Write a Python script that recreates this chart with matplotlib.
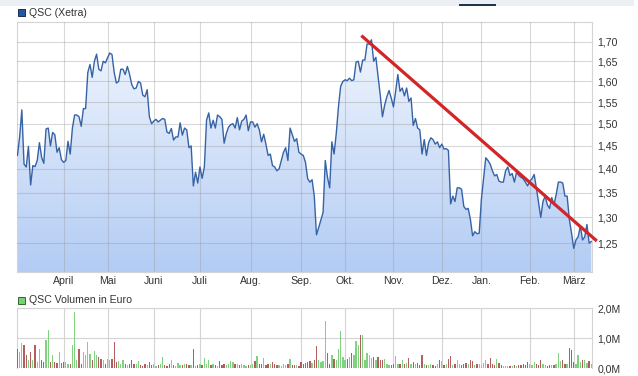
import matplotlib.pyplot as plt
import numpy as np
from matplotlib.patches import Rectangle
from matplotlib.colors import LinearSegmentedColormap
from matplotlib.ticker import NullLocator, NullFormatter

plt.rcParams['font.family'] = ['Liberation Sans', 'DejaVu Sans']

# month labels on the x axis and trading days in each segment
# (first segment = end of March before the April gridline)
months = ['April', 'Mai', 'Juni', 'Juli', 'Aug.', 'Sep.', 'Okt.', 'Nov.',
          'Dez.', 'Jan.', 'Feb.', 'März']
days_per_month = [21, 20, 21, 21, 23, 23, 20, 22, 22, 18, 22, 20, 9]

# daily closing prices (EUR), Xetra
price = [
    1.429, 1.47, 1.532, 1.41, 1.404, 1.449, 1.366, 1.407, 1.405, 1.418,
    1.457, 1.425, 1.412, 1.488, 1.49, 1.45, 1.48, 1.475, 1.436, 1.446,
    1.42, 1.414, 1.418, 1.46, 1.432, 1.49, 1.52, 1.52, 1.516, 1.494,
    1.535, 1.535, 1.622, 1.642, 1.61, 1.65, 1.668, 1.63, 1.626, 1.65,
    1.646, 1.659, 1.671, 1.667, 1.622, 1.596, 1.60, 1.63, 1.63, 1.617,
    1.637, 1.617, 1.592, 1.582, 1.584, 1.60, 1.596, 1.567, 1.563, 1.58,
    1.516, 1.50, 1.506, 1.51, 1.504, 1.508, 1.512, 1.51, 1.481, 1.478,
    1.489, 1.463, 1.47, 1.47, 1.502, 1.474, 1.49, 1.486, 1.446, 1.45,
    1.364, 1.393, 1.37, 1.404, 1.38, 1.404, 1.508, 1.525, 1.49, 1.508,
    1.49, 1.52, 1.516, 1.51, 1.456, 1.478, 1.492, 1.498, 1.50, 1.49,
    1.514, 1.486, 1.506, 1.51, 1.52, 1.484, 1.504, 1.504, 1.492, 1.50,
    1.486, 1.459, 1.476, 1.454, 1.429, 1.432, 1.407, 1.404, 1.396, 1.40,
    1.418, 1.436, 1.446, 1.418, 1.49, 1.475, 1.46, 1.466, 1.436, 1.432,
    1.429, 1.414, 1.379, 1.372, 1.377, 1.343, 1.266, 1.28, 1.295, 1.31,
    1.418, 1.382, 1.36, 1.459, 1.432, 1.478, 1.54, 1.588, 1.60, 1.604,
    1.602, 1.608, 1.602, 1.604, 1.648, 1.65, 1.623, 1.653, 1.653, 1.694,
    1.694, 1.705, 1.65, 1.66, 1.613, 1.567, 1.516, 1.543, 1.563, 1.578,
    1.56, 1.539, 1.576, 1.617, 1.576, 1.584, 1.565, 1.584, 1.552, 1.56,
    1.496, 1.512, 1.49, 1.486, 1.432, 1.464, 1.429, 1.457, 1.468, 1.464,
    1.454, 1.459, 1.446, 1.454, 1.443, 1.444, 1.44, 1.327, 1.343, 1.332,
    1.36, 1.36, 1.357, 1.322, 1.316, 1.318, 1.296, 1.264, 1.272, 1.268,
    1.269, 1.337, 1.379, 1.424, 1.418, 1.41, 1.396, 1.385, 1.388, 1.374,
    1.372, 1.372, 1.396, 1.404, 1.386, 1.39, 1.372, 1.393, 1.386, 1.382,
    1.379, 1.372, 1.364, 1.374, 1.379, 1.388, 1.36, 1.33, 1.30, 1.332,
    1.343, 1.325, 1.318, 1.34, 1.325, 1.346, 1.372, 1.372, 1.37, 1.343,
    1.343, 1.296, 1.269, 1.24, 1.256, 1.262, 1.283, 1.256, 1.262, 1.286,
    1.25, 1.253,
]

# daily volume in million EUR
volume_m = [
    0.62, 0.52, 0.82, 0.76, 0.43, 0.26, 0.54, 0.26, 0.76, 0.20,
    0.62, 0.26, 0.20, 0.95, 1.27, 0.20, 0.43, 0.20, 0.16, 0.52,
    0.18, 0.20, 0.20, 0.15, 0.15, 0.76, 1.86, 0.28, 0.65, 0.12,
    0.52, 0.43, 0.88, 0.48, 0.26, 0.56, 0.43, 0.37, 0.31, 0.26,
    0.15, 0.31, 0.28, 0.31, 0.88, 0.20, 0.23, 0.15, 0.28, 0.12,
    0.09, 0.15, 0.28, 0.12, 0.15, 0.22, 0.10, 0.08, 0.13, 0.10,
    0.20, 0.09, 0.12, 0.08, 0.10, 0.14, 0.37, 0.10, 0.08, 0.12,
    0.26, 0.10, 0.08, 0.17, 0.11, 0.09, 0.14, 0.12, 0.10, 0.09,
    0.63, 0.08, 0.10, 0.12, 0.09, 0.34, 0.14, 0.28, 0.11, 0.13,
    0.10, 0.08, 0.22, 0.09, 0.12, 0.10, 0.14, 0.23, 0.20, 0.12,
    0.15, 0.10, 0.12, 0.09, 0.08, 0.11, 0.09, 0.13, 0.22, 0.39,
    0.12, 0.15, 0.34, 0.11, 0.14, 0.12, 0.20, 0.13, 0.10, 0.09,
    0.08, 0.12, 0.10, 0.13, 0.29, 0.11, 0.09, 0.10, 0.08, 0.20,
    0.12, 0.16, 0.20, 0.23, 0.18, 0.26, 0.74, 0.28, 0.19, 0.22,
    1.58, 0.50, 0.14, 0.43, 0.31, 0.28, 0.65, 1.24, 0.37, 0.28,
    0.31, 0.37, 0.50, 0.42, 0.90, 0.76, 1.10, 1.10, 0.28, 0.50,
    0.45, 0.35, 0.37, 0.28, 0.37, 0.26, 0.28, 0.31, 0.14, 0.11,
    0.09, 0.14, 0.39, 0.12, 0.15, 0.26, 0.12, 0.18, 0.34, 0.14,
    0.20, 0.12, 0.16, 0.10, 0.43, 0.13, 0.11, 0.09, 0.12, 0.10,
    0.08, 0.14, 0.26, 0.22, 0.10, 0.12, 0.31, 0.39, 0.11, 0.13,
    0.26, 0.12, 0.10, 0.14, 0.17, 0.12, 0.28, 0.22, 0.10, 0.12,
    0.15, 0.11, 0.18, 0.26, 0.12, 0.35, 0.14, 0.10, 0.31, 0.17,
    0.09, 0.07, 0.08, 0.06, 0.08, 0.07, 0.09, 0.08, 0.10, 0.09,
    0.12, 0.10, 0.20, 0.14, 0.11, 0.20, 0.13, 0.10, 0.26, 0.12,
    0.10, 0.08, 0.09, 0.11, 0.10, 0.12, 0.50, 0.23, 0.28, 0.12,
    0.15, 0.67, 0.59, 0.20, 0.12, 0.43, 0.20, 0.26, 0.28, 0.17,
    0.22, 0.15,
]

price_ticks = [1.25, 1.30, 1.35, 1.40, 1.45, 1.50, 1.55, 1.60, 1.65, 1.70]
vol_ticks = [0.0, 1.0, 2.0]

# hand drawn resistance line (trading day index, price)
trend_days = [156.4, 263.5]
trend_prices = [1.716, 1.254]

W, H = 638, 376


def box(l, t, r, b):
    return [l / W, 1 - b / H, (r - l) / W, (b - t) / H]


fig = plt.figure(figsize=(W / 100, H / 100), dpi=100)
ax = fig.add_axes(box(17, 22, 592, 272))
axv = fig.add_axes(box(17, 308, 592, 368))

x = np.arange(len(price))
month_pos = np.cumsum(days_per_month)[:-1]
grid_c = '#d4d4d4'
txt_c = '#333333'

# ---- price chart ----
ax.set_yscale('log')
ax.set_xlim(-0.2, 261.3)
ax.set_ylim(1.196, 1.752)

cmap = LinearSegmentedColormap.from_list('fill', ['#f4f8fe', '#b3ccf4'])
grad = np.linspace(0, 1, 256).reshape(-1, 1)
im = ax.imshow(grad, cmap=cmap, extent=[0, 1, 0, 1], transform=ax.transAxes,
               aspect='auto', zorder=1, interpolation='bilinear')
poly = ax.fill_between(x, price, 1.0, facecolor='none', edgecolor='none')
im.set_clip_path(poly.get_paths()[0], transform=ax.transData)

ax.plot(x, price, color='#3663a6', lw=1.0, zorder=3)
ax.plot(trend_days, trend_prices, color='#d42526', lw=2.3,
        solid_capstyle='butt', zorder=4, clip_on=False)

ax.set_xticks(month_pos)
ax.set_xticklabels(months)
ax.yaxis.set_minor_locator(NullLocator())
ax.yaxis.set_minor_formatter(NullFormatter())
ax.set_yticks(price_ticks)
ax.set_yticklabels([f'{v:.2f}'.replace('.', ',') for v in price_ticks])
ax.yaxis.tick_right()
ax.tick_params(axis='both', length=0, labelsize=7.6, colors=txt_c)
ax.tick_params(axis='y', pad=4)
ax.tick_params(axis='x', pad=3)
ax.set_axisbelow(False)
ax.grid(True, color='#9a9a9a', alpha=0.38, lw=0.8)
for s in ax.spines.values():
    s.set_color(grid_c)
    s.set_linewidth(0.8)

# ---- volume chart ----
colors = ['#b35e5e']
for i in range(1, len(price)):
    colors.append('#80d180' if price[i] >= price[i - 1] else '#b35e5e')
axv.bar(x, volume_m, width=0.6, color=colors, zorder=3)
axv.set_xlim(-0.2, 261.3)
axv.set_ylim(0, 2.0)
axv.set_xticks(month_pos)
axv.set_xticklabels([])
axv.set_yticks(vol_ticks)
axv.set_yticklabels([f'{v:.1f}'.replace('.', ',') + 'M' for v in vol_ticks])
axv.yaxis.tick_right()
axv.tick_params(axis='both', length=0, labelsize=7.6, colors=txt_c)
axv.tick_params(axis='y', pad=4)
axv.grid(True, color=grid_c, lw=0.8, zorder=0)
axv.set_axisbelow(True)
for s in axv.spines.values():
    s.set_color(grid_c)
    s.set_linewidth(0.8)
axv.spines['bottom'].set_visible(False)

# ---- legends / header ----
fig.patches.append(Rectangle((0, 1 - 6 / H), 634 / W, 6 / H, transform=fig.transFigure,
                             facecolor='#eceff3', edgecolor='none'))
fig.patches.append(Rectangle((459 / W, 1 - 6 / H), 37 / W, 2 / H, transform=fig.transFigure,
                             facecolor='#1d3652', edgecolor='none'))
fig.patches.append(Rectangle((17.5 / W, 1 - 16 / H), 7 / W, 7 / H, transform=fig.transFigure,
                             facecolor='#2456a3', edgecolor='#1a2f55', lw=0.7))
fig.text(29 / W, 1 - 12.5 / H, 'QSC (Xetra)', fontsize=7.6, color=txt_c, va='center')
fig.patches.append(Rectangle((17.5 / W, 1 - 303.5 / H), 7 / W, 7 / H, transform=fig.transFigure,
                             facecolor='#77d277', edgecolor='#2d6a2d', lw=0.7))
fig.text(29 / W, 1 - 300 / H, 'QSC Volumen in Euro', fontsize=7.6, color=txt_c, va='center')

fig.savefig('out.png', dpi=100)
